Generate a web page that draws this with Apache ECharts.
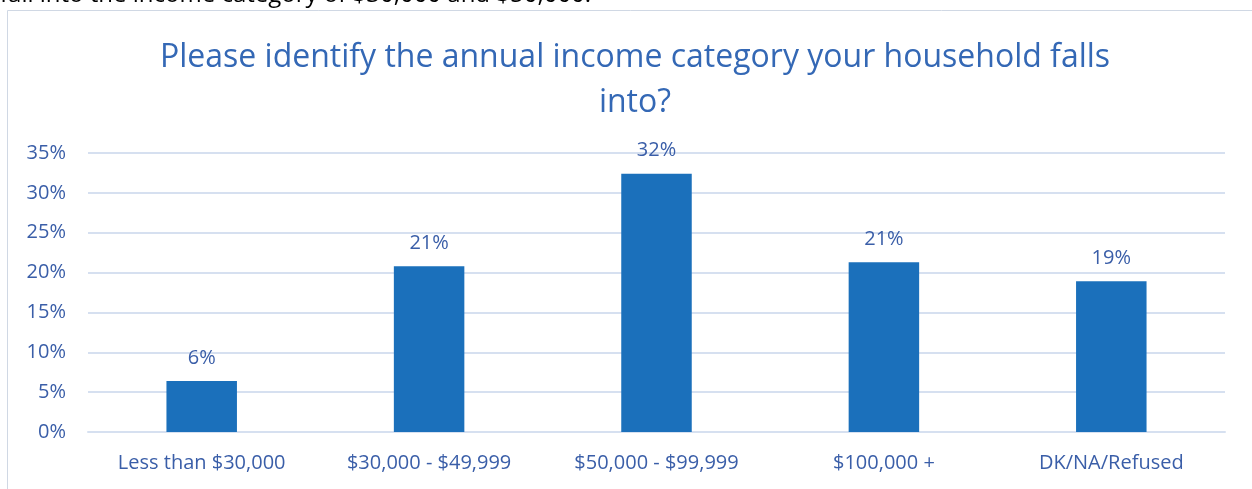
<!DOCTYPE html>
<html>
<head>
<meta charset="utf-8">
<script src="https://cdn.jsdelivr.net/npm/echarts@6/dist/echarts.min.js"></script>
<style>
  html, body { margin: 0; padding: 0; background: #fff; }
  #chart { width: 1252px; height: 489px; }
</style>
</head>
<body>
<div id="chart"></div>
<script>
// income categories and share of households
var categories = ['Less than $30,000', '$30,000 - $49,999', '$50,000 - $99,999', '$100,000 +', 'DK/NA/Refused'];
var shares = [6.4, 20.8, 32.4, 21.3, 18.9];
var yTicks = [0, 5, 10, 15, 20, 25, 30, 35];

var blue = '#1b70bb';
var textBlue = '#3a5ea8';
var font = 'Open Sans';

var chart = echarts.init(document.getElementById('chart'));
var option = {
  animation: false,
  backgroundColor: '#fff',
  graphic: [
    // frame of the chart box
    {
      type: 'rect',
      shape: { x: 7.5, y: 10.5, width: 1300, height: 600 },
      style: { fill: 'none', stroke: '#d0d8e4', lineWidth: 1 }
    },
    // cut-off text line above the chart
    {
      type: 'text',
      left: 0,
      top: -17,
      style: {
        text: 'fall into the income category of $30,000 and $50,000.',
        font: '24px "' + font + '"',
        fill: '#000'
      }
    }
  ],
  title: {
    text: 'Please identify the annual income category your household falls\ninto?',
    left: 630,
    top: 30,
    textAlign: 'center',
    textStyle: {
      fontFamily: font,
      fontSize: 32,
      fontWeight: 'normal',
      color: '#3468b5',
      lineHeight: 45
    }
  },
  grid: {
    left: 88,
    right: 27,
    top: 153,
    bottom: 57,
    containLabel: false
  },
  xAxis: {
    type: 'category',
    data: categories,
    axisLine: { lineStyle: { color: '#d6e0f0', width: 2 } },
    axisTick: { show: false },
    axisLabel: {
      fontFamily: font,
      fontSize: 20,
      color: textBlue,
      margin: 21
    }
  },
  yAxis: {
    type: 'value',
    min: 0,
    max: 35,
    interval: 5,
    axisLine: { show: false },
    axisTick: { show: false },
    splitLine: { lineStyle: { color: '#d6e0f0', width: 2 } },
    axisLabel: {
      fontFamily: font,
      fontSize: 20,
      color: textBlue,
      margin: 22,
      formatter: function (v) { return yTicks.indexOf(v) >= 0 ? v + '%' : ''; }
    }
  },
  series: [{
    type: 'bar',
    data: shares,
    barWidth: '31%',
    itemStyle: { color: blue },
    label: {
      show: true,
      position: 'top',
      distance: 13,
      fontFamily: font,
      fontSize: 20,
      color: textBlue,
      formatter: function (p) { return Math.round(p.value) + '%'; }
    }
  }]
};
chart.setOption(option);
</script>
</body>
</html>
